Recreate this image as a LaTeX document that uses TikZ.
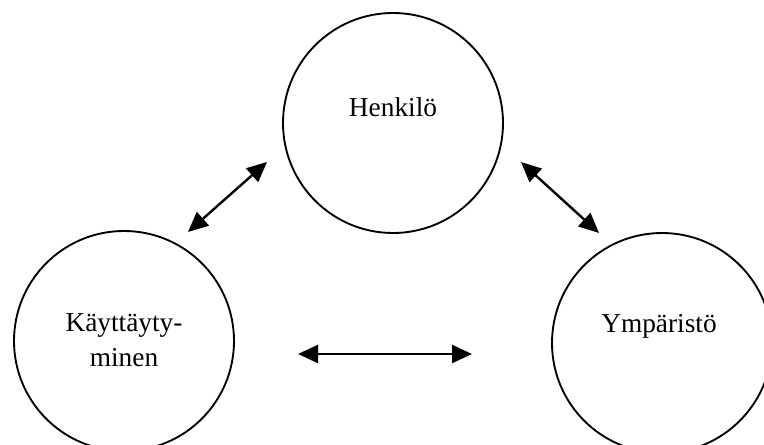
\documentclass[tikz,border=0pt]{standalone}
\usepackage{fontspec}
\setmainfont{Liberation Serif}
\usetikzlibrary{arrows.meta}
\tikzset{
  ring/.style={draw, circle, line width=1.4pt, minimum size=165pt, inner sep=0pt},
  word/.style={font=\fontsize{20.5}{26}\selectfont, align=center},
  link/.style={line width=1.8pt, {Triangle[length=15pt,width=13.5pt]}-{Triangle[length=15pt,width=13.5pt]}}
}

\begin{document}
\begin{tikzpicture}[x=0.75pt,y=-0.75pt]
	\useasboundingbox (0,0) rectangle (764,445);
	\clip (0,0) rectangle (764,445);
	% drawing circles
	\node[ring] (hen) at (393,123) {};
	\node[ring] (kay) at (124,341) {};
	\node[ring] (ymp) at (662,343) {};
	% texts
	\node[word] (henT) at (393,107) {Henkilö};
	\node[word] (kayT) at (124,340) {Käyttäyty-\\minen};
	\node[word] (ympT) at (659,326) {Ympäristö};
	% arrow ends
	\coordinate (kayA) at (188,232);
	\coordinate (henA) at (267,162);
	\coordinate (henB) at (521,162);
	\coordinate (ympA) at (599,233);
	\coordinate (kayB) at (298,354);
	\coordinate (ympB) at (472,354);
	% drawing arrows
	\draw[link] (kayA) -- (henA);
	\draw[link] (henB) -- (ympA);
	\draw[link] (kayB) -- (ympB);
\end{tikzpicture}
\end{document}
